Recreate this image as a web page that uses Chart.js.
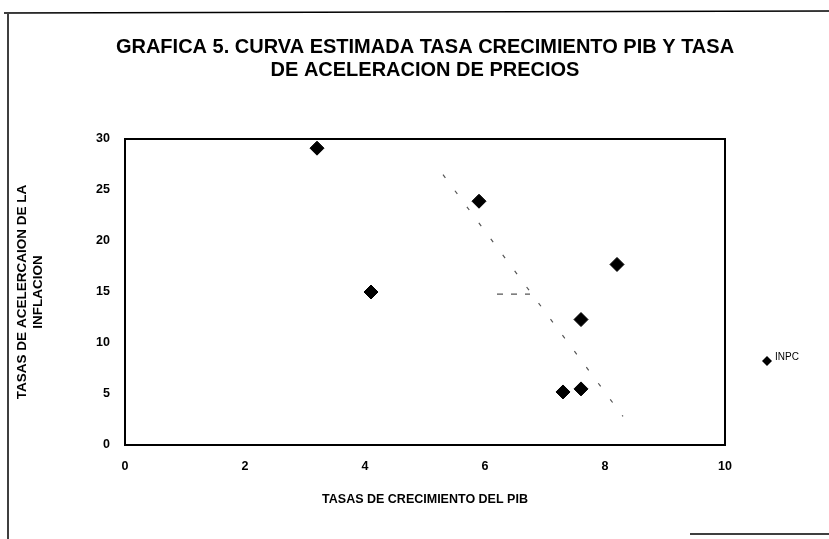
<!DOCTYPE html>
<html>
<head>
<meta charset="utf-8">
<script src="https://cdn.jsdelivr.net/npm/chart.js@4"></script>
<style>
  html, body { margin: 0; padding: 0; background: #fff; }
  #wrap { width: 829px; height: 539px; }
</style>
</head>
<body>
<div id="wrap"><canvas id="chart" width="829" height="539"></canvas></div>
<script>
// Data
const growth = [3.2, 5.9, 4.1, 8.2, 7.6, 7.6, 7.3];        // TASAS DE CRECIMIENTO DEL PIB
const inflation = [29.1, 23.9, 15.0, 17.7, 12.3, 5.5, 5.2]; // TASAS DE ACELERACION DE LA INFLACION
const estX = [5.3, 8.3];      // faint estimated curve
const estY = [26.5, 2.8];
const estSegX = [6.2, 6.75];  // short stray piece of the curve
const estSegY = [14.8, 14.8];
const xTicks = [0, 2, 4, 6, 8, 10];
const yTicks = [0, 5, 10, 15, 20, 25, 30];
const titleLines = ["GRAFICA 5. CURVA ESTIMADA TASA CRECIMIENTO PIB Y TASA",
                    "DE ACELERACION DE PRECIOS"];

const FONT = "'Liberation Sans', Arial, sans-serif";

const toPoints = (xs, ys) => xs.map((x, i) => ({ x: x, y: ys[i] }));

// title, frame around the plot, page border lines and the legend
const extras = {
    id: "extras",
    afterDraw(chart) {
        const ctx = chart.ctx;
        const a = chart.chartArea;
        ctx.save();
        ctx.fillStyle = "#000";
        ctx.textAlign = "center";
        ctx.textBaseline = "middle";
        ctx.font = "bold 20px " + FONT;
        titleLines.forEach((t, i) => ctx.fillText(t, 425, 47 + i * 23));

        ctx.strokeStyle = "#000";
        ctx.lineWidth = 2;
        ctx.strokeRect(a.left, a.top, a.right - a.left, a.bottom - a.top);

        // outer page border (scanned frame)
        ctx.lineWidth = 1.5;
        ctx.beginPath();
        ctx.moveTo(4, 13); ctx.lineTo(829, 11);
        ctx.moveTo(8, 14); ctx.lineTo(8, 539);
        ctx.moveTo(690, 534); ctx.lineTo(829, 534);
        ctx.stroke();

        // legend
        const lx = 767, ly = 361, r = 5;
        ctx.beginPath();
        ctx.moveTo(lx - r, ly); ctx.lineTo(lx, ly - r);
        ctx.lineTo(lx + r, ly); ctx.lineTo(lx, ly + r);
        ctx.closePath();
        ctx.fill();
        ctx.textAlign = "left";
        ctx.font = "10px " + FONT;
        ctx.fillText("INPC", 775, 357);
        ctx.restore();
    }
};

new Chart(document.getElementById("chart").getContext("2d"), {
    type: "scatter",
    data: {
        datasets: [
            {
                label: "INPC",
                data: toPoints(growth, inflation),
                pointStyle: "rectRot",
                pointRadius: 7,
                backgroundColor: "#000",
                borderColor: "#000",
                borderWidth: 1
            },
            {
                label: "Estimada",
                data: toPoints(estX, estY),
                showLine: true,
                pointRadius: 0,
                borderColor: "#555",
                borderWidth: 1.2,
                borderDash: [4, 16]
            },
            {
                label: "Estimada 2",
                data: toPoints(estSegX, estSegY),
                showLine: true,
                pointRadius: 0,
                borderColor: "#555",
                borderWidth: 1.2,
                borderDash: [6, 8]
            }
        ]
    },
    options: {
        responsive: false,
        animation: false,
        devicePixelRatio: 1,
        layout: { padding: { top: 139, right: 104, bottom: 0, left: 0 } },
        plugins: {
            legend: { display: false },
            tooltip: { enabled: false },
            title: { display: false }
        },
        scales: {
            x: {
                type: "linear",
                min: 0, max: 10,
                afterBuildTicks: s => { s.ticks = xTicks.map(v => ({ value: v })); },
                afterFit: s => { s.height = 94; },
                grid: { display: false, drawTicks: false },
                border: { display: true, color: "#000", width: 2 },
                ticks: {
                    padding: 14,
                    color: "#000",
                    font: { family: FONT, size: 12.5, weight: "bold" }
                },
                title: {
                    display: true,
                    text: "TASAS DE CRECIMIENTO DEL PIB",
                    color: "#000",
                    font: { family: FONT, size: 12.5, weight: "bold" },
                    padding: { top: 0, bottom: 32 }
                }
            },
            y: {
                type: "linear",
                min: 0, max: 30,
                afterBuildTicks: s => { s.ticks = yTicks.map(v => ({ value: v })); },
                afterFit: s => { s.width = 125; },
                grid: { display: false, drawTicks: false },
                border: { display: true, color: "#000", width: 2 },
                ticks: {
                    padding: 15,
                    color: "#000",
                    font: { family: FONT, size: 12.5, weight: "bold" }
                },
                title: {
                    display: true,
                    text: ["TASAS DE ACELERCAION DE LA", "INFLACION"],
                    color: "#000",
                    font: { family: FONT, size: 13.5, weight: "bold", lineHeight: 1.2 },
                    padding: { top: 14, bottom: 0 }
                }
            }
        }
    },
    plugins: [extras]
});
</script>
</body>
</html>
